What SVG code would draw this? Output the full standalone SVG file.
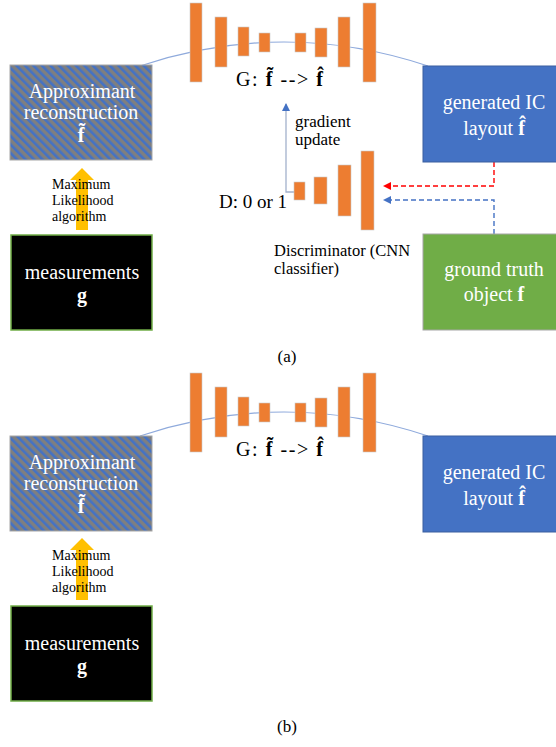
<svg xmlns="http://www.w3.org/2000/svg" width="556" height="747" viewBox="0 0 556 747">
<style>
text{font-family:'Liberation Serif','Times New Roman','DejaVu Serif',serif}
.bar{fill:#ed7d31;stroke:#c9c9c9;stroke-width:0.6}
.arc{fill:none;stroke:#8faadc;stroke-width:1.2}
.wt{fill:#ffffff;font-size:20px;text-anchor:middle}
.bt{fill:#000000}
.b{font-weight:bold}
</style>
<defs>
<pattern id="stripes" width="6" height="6" patternUnits="userSpaceOnUse" patternTransform="rotate(-45)">
<rect width="6" height="6" fill="#7f7f7f"/>
<rect width="2.6" height="6" fill="#4472c4"/>
</pattern>
<marker id="ahRed" markerWidth="8" markerHeight="8" refX="7" refY="4" orient="auto" markerUnits="userSpaceOnUse">
<path d="M0,0 L8,4 L0,8 Z" fill="#ff0000"/>
</marker>
<marker id="ahBlue" markerWidth="8" markerHeight="8" refX="7" refY="4" orient="auto" markerUnits="userSpaceOnUse">
<path d="M0,0 L8,4 L0,8 Z" fill="#4472c4"/>
</marker>
</defs>
<rect width="556" height="747" fill="#ffffff"/>

<g id="panel-a">
<g id="connectors-a">
<path class="arc" d="M140,66 Q284,18 428,66"/>
<path d="M494,162 V186 H384" fill="none" stroke="#ff0000" stroke-width="1.4" stroke-dasharray="5,3" marker-end="url(#ahRed)"/>
<path d="M494,234 V200 H384" fill="none" stroke="#4472c4" stroke-width="1.4" stroke-dasharray="5,3" marker-end="url(#ahBlue)"/>
<path d="M294,192 H286 V104" fill="none" stroke="#a3b1cc" stroke-width="1.3" marker-end="url(#ahBlue)"/>
<polygon points="76,230 88,230 88,180 94,180 82,168 70,180 76,180" fill="#ffc000"/>
</g>
<g id="generator-a">
<rect class="bar" x="190" y="3" width="12" height="79"/>
<rect class="bar" x="215" y="17" width="12" height="50"/>
<rect class="bar" x="238" y="27" width="11" height="29"/>
<rect class="bar" x="259" y="33" width="11" height="19"/>
<rect class="bar" x="295" y="33" width="11" height="19"/>
<rect class="bar" x="315" y="28" width="12" height="29"/>
<rect class="bar" x="338" y="17" width="12" height="50"/>
<rect class="bar" x="363" y="3" width="13" height="79"/>
<text class="bt" x="236" y="86" font-size="20" textLength="87" lengthAdjust="spacing">G:  <tspan class="b">f̃</tspan> --&gt; <tspan class="b">f̂</tspan></text>
</g>
<g id="approx-a">
<rect x="10" y="65" width="142" height="95" fill="url(#stripes)" stroke="#a6a6a6" stroke-width="1"/>
<text class="wt" x="82" y="98">Approximant</text>
<text class="wt" x="81" y="119">reconstruction</text>
<text class="wt b" x="81" y="142">f̃</text>
</g>
<g id="ml-label-a">
<text class="bt" x="52" y="189" font-size="14">Maximum</text>
<text class="bt" x="52" y="205" font-size="14">Likelihood</text>
<text class="bt" x="52" y="221" font-size="14">algorithm</text>
</g>
<g id="measurements-a">
<rect x="11" y="235" width="141" height="95" fill="#000000" stroke="#70ad47" stroke-width="1.5"/>
<text class="wt" x="82" y="279">measurements</text>
<text class="wt b" x="82" y="302">g</text>
</g>
<g id="generated-a">
<rect x="423" y="66" width="134" height="96" fill="#4472c4" stroke="#3a5f9f" stroke-width="1"/>
<text class="wt" x="494" y="109">generated IC</text>
<text class="wt" x="494" y="135">layout <tspan class="b">f̂</tspan></text>
</g>
<g id="discriminator">
<rect class="bar" x="294" y="182" width="11" height="18"/>
<rect class="bar" x="314" y="177" width="13" height="27"/>
<rect class="bar" x="338" y="165" width="13" height="51"/>
<rect class="bar" x="361" y="151" width="13" height="79"/>
<text class="bt" x="287" y="208" font-size="19" text-anchor="end">D: 0 or 1</text>
<text class="bt" x="274" y="256" font-size="16.5">Discriminator (CNN</text>
<text class="bt" x="274" y="274" font-size="16.5">classifier)</text>
</g>
<g id="gradient-label">
<text class="bt" x="295" y="127" font-size="17">gradient</text>
<text class="bt" x="295" y="145" font-size="17">update</text>
</g>
<g id="groundtruth">
<rect x="423" y="234" width="134" height="96" fill="#70ad47" stroke="#a6a6a6" stroke-width="1"/>
<text class="wt" x="494" y="276">ground truth</text>
<text class="wt" x="494" y="301">object <tspan class="b">f</tspan></text>
</g>
<text id="label-a" class="bt" x="287" y="362" font-size="17" text-anchor="middle">(a)</text>
</g>

<g id="panel-b" transform="translate(0,370)">
<g id="connectors-b">
<path class="arc" d="M140,66 Q284,18 428,66"/>
<polygon points="76,230 88,230 88,180 94,180 82,168 70,180 76,180" fill="#ffc000"/>
</g>
<g id="generator-b">
<rect class="bar" x="190" y="3" width="12" height="79"/>
<rect class="bar" x="215" y="17" width="12" height="50"/>
<rect class="bar" x="238" y="27" width="11" height="29"/>
<rect class="bar" x="259" y="33" width="11" height="19"/>
<rect class="bar" x="295" y="33" width="11" height="19"/>
<rect class="bar" x="315" y="28" width="12" height="29"/>
<rect class="bar" x="338" y="17" width="12" height="50"/>
<rect class="bar" x="363" y="3" width="13" height="79"/>
<text class="bt" x="236" y="86" font-size="20" textLength="87" lengthAdjust="spacing">G:  <tspan class="b">f̃</tspan> --&gt; <tspan class="b">f̂</tspan></text>
</g>
<g id="approx-b">
<rect x="10" y="66" width="142" height="95" fill="url(#stripes)" stroke="#a6a6a6" stroke-width="1"/>
<text class="wt" x="82" y="99">Approximant</text>
<text class="wt" x="81" y="120">reconstruction</text>
<text class="wt b" x="81" y="143">f̃</text>
</g>
<g id="ml-label-b">
<text class="bt" x="52" y="190" font-size="14">Maximum</text>
<text class="bt" x="52" y="206" font-size="14">Likelihood</text>
<text class="bt" x="52" y="222" font-size="14">algorithm</text>
</g>
<g id="measurements-b">
<rect x="11" y="236" width="141" height="95" fill="#000000" stroke="#70ad47" stroke-width="1.5"/>
<text class="wt" x="82" y="280">measurements</text>
<text class="wt b" x="82" y="303">g</text>
</g>
<g id="generated-b">
<rect x="423" y="66" width="134" height="96" fill="#4472c4" stroke="#3a5f9f" stroke-width="1"/>
<text class="wt" x="494" y="109">generated IC</text>
<text class="wt" x="494" y="135">layout <tspan class="b">f̂</tspan></text>
</g>
<text id="label-b" class="bt" x="287" y="362" font-size="17" text-anchor="middle">(b)</text>
</g>
</svg>
